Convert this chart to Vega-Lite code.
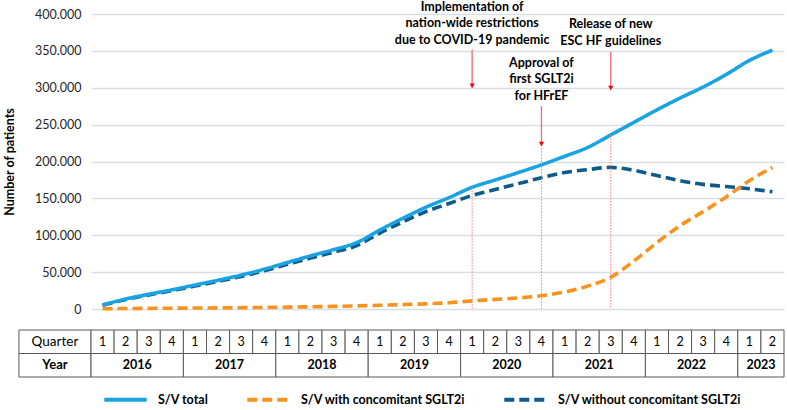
{
  "$schema": "https://vega.github.io/schema/vega-lite/v6.json",
  "padding": {"left": 3, "top": 0, "right": 0, "bottom": 0},
  "background": "white",
  "spacing": 13,
  "config": {
    "view": {"stroke": null},
    "font": "Lato",
    "axisY": {
      "grid": true, "gridColor": "#d9dee5", "gridWidth": 1.5,
      "domain": false, "ticks": false, "tickSize": 0,
      "labelPadding": 10, "labelFontSize": 12.5, "labelColor": "#262626",
      "titleFontSize": 12.5, "titleFontWeight": "bold", "titleColor": "#000000",
      "titlePadding": 18, "labelOverlap": false
    },
    "legend": {
      "orient": "none",
      "legendX": 11,
      "legendY": 362,
      "direction": "horizontal",
      "symbolType": "stroke",
      "symbolSize": 1800,
      "symbolStrokeWidth": 4,
      "labelFontSize": 12.5,
      "labelFontWeight": "bold",
      "labelColor": "#000000",
      "labelOffset": 9,
      "columnPadding": 30,
      "labelLimit": 400
    }
  },
  "datasets": {
    "series": [
      {"q": 0, "series": "S/V without concomitant SGLT2i", "patients": 5000},
      {"q": 1, "series": "S/V without concomitant SGLT2i", "patients": 12800},
      {"q": 2, "series": "S/V without concomitant SGLT2i", "patients": 19100},
      {"q": 3, "series": "S/V without concomitant SGLT2i", "patients": 24900},
      {"q": 4, "series": "S/V without concomitant SGLT2i", "patients": 31200},
      {"q": 5, "series": "S/V without concomitant SGLT2i", "patients": 37500},
      {"q": 6, "series": "S/V without concomitant SGLT2i", "patients": 44200},
      {"q": 7, "series": "S/V without concomitant SGLT2i", "patients": 51900},
      {"q": 8, "series": "S/V without concomitant SGLT2i", "patients": 60500},
      {"q": 9, "series": "S/V without concomitant SGLT2i", "patients": 69000},
      {"q": 10, "series": "S/V without concomitant SGLT2i", "patients": 77000},
      {"q": 11, "series": "S/V without concomitant SGLT2i", "patients": 86000},
      {"q": 12, "series": "S/V without concomitant SGLT2i", "patients": 103000},
      {"q": 13, "series": "S/V without concomitant SGLT2i", "patients": 118000},
      {"q": 14, "series": "S/V without concomitant SGLT2i", "patients": 132000},
      {"q": 15, "series": "S/V without concomitant SGLT2i", "patients": 143000},
      {"q": 16, "series": "S/V without concomitant SGLT2i", "patients": 154000},
      {"q": 17, "series": "S/V without concomitant SGLT2i", "patients": 162000},
      {"q": 18, "series": "S/V without concomitant SGLT2i", "patients": 170000},
      {"q": 19, "series": "S/V without concomitant SGLT2i", "patients": 178000},
      {"q": 20, "series": "S/V without concomitant SGLT2i", "patients": 185000},
      {"q": 21, "series": "S/V without concomitant SGLT2i", "patients": 189000},
      {"q": 22, "series": "S/V without concomitant SGLT2i", "patients": 192000},
      {"q": 23, "series": "S/V without concomitant SGLT2i", "patients": 188000},
      {"q": 24, "series": "S/V without concomitant SGLT2i", "patients": 181000},
      {"q": 25, "series": "S/V without concomitant SGLT2i", "patients": 174000},
      {"q": 26, "series": "S/V without concomitant SGLT2i", "patients": 169000},
      {"q": 27, "series": "S/V without concomitant SGLT2i", "patients": 166000},
      {"q": 28, "series": "S/V without concomitant SGLT2i", "patients": 163000},
      {"q": 29, "series": "S/V without concomitant SGLT2i", "patients": 159000},
      {"q": 0, "series": "S/V total", "patients": 5500},
      {"q": 1, "series": "S/V total", "patients": 13500},
      {"q": 2, "series": "S/V total", "patients": 20000},
      {"q": 3, "series": "S/V total", "patients": 26000},
      {"q": 4, "series": "S/V total", "patients": 32500},
      {"q": 5, "series": "S/V total", "patients": 39000},
      {"q": 6, "series": "S/V total", "patients": 46000},
      {"q": 7, "series": "S/V total", "patients": 54000},
      {"q": 8, "series": "S/V total", "patients": 63000},
      {"q": 9, "series": "S/V total", "patients": 72000},
      {"q": 10, "series": "S/V total", "patients": 80500},
      {"q": 11, "series": "S/V total", "patients": 90000},
      {"q": 12, "series": "S/V total", "patients": 107000},
      {"q": 13, "series": "S/V total", "patients": 123000},
      {"q": 14, "series": "S/V total", "patients": 138000},
      {"q": 15, "series": "S/V total", "patients": 151000},
      {"q": 16, "series": "S/V total", "patients": 165000},
      {"q": 17, "series": "S/V total", "patients": 175000},
      {"q": 18, "series": "S/V total", "patients": 185000},
      {"q": 19, "series": "S/V total", "patients": 195500},
      {"q": 20, "series": "S/V total", "patients": 207000},
      {"q": 21, "series": "S/V total", "patients": 219000},
      {"q": 22, "series": "S/V total", "patients": 236000},
      {"q": 23, "series": "S/V total", "patients": 253000},
      {"q": 24, "series": "S/V total", "patients": 270000},
      {"q": 25, "series": "S/V total", "patients": 286000},
      {"q": 26, "series": "S/V total", "patients": 301000},
      {"q": 27, "series": "S/V total", "patients": 318000},
      {"q": 28, "series": "S/V total", "patients": 337000},
      {"q": 29, "series": "S/V total", "patients": 351000},
      {"q": 0, "series": "S/V with concomitant SGLT2i", "patients": 300},
      {"q": 1, "series": "S/V with concomitant SGLT2i", "patients": 700},
      {"q": 2, "series": "S/V with concomitant SGLT2i", "patients": 900},
      {"q": 3, "series": "S/V with concomitant SGLT2i", "patients": 1100},
      {"q": 4, "series": "S/V with concomitant SGLT2i", "patients": 1300},
      {"q": 5, "series": "S/V with concomitant SGLT2i", "patients": 1500},
      {"q": 6, "series": "S/V with concomitant SGLT2i", "patients": 1800},
      {"q": 7, "series": "S/V with concomitant SGLT2i", "patients": 2100},
      {"q": 8, "series": "S/V with concomitant SGLT2i", "patients": 2500},
      {"q": 9, "series": "S/V with concomitant SGLT2i", "patients": 3000},
      {"q": 10, "series": "S/V with concomitant SGLT2i", "patients": 3500},
      {"q": 11, "series": "S/V with concomitant SGLT2i", "patients": 4200},
      {"q": 12, "series": "S/V with concomitant SGLT2i", "patients": 5000},
      {"q": 13, "series": "S/V with concomitant SGLT2i", "patients": 6000},
      {"q": 14, "series": "S/V with concomitant SGLT2i", "patients": 7000},
      {"q": 15, "series": "S/V with concomitant SGLT2i", "patients": 8500},
      {"q": 16, "series": "S/V with concomitant SGLT2i", "patients": 11000},
      {"q": 17, "series": "S/V with concomitant SGLT2i", "patients": 13000},
      {"q": 18, "series": "S/V with concomitant SGLT2i", "patients": 15000},
      {"q": 19, "series": "S/V with concomitant SGLT2i", "patients": 18000},
      {"q": 20, "series": "S/V with concomitant SGLT2i", "patients": 23000},
      {"q": 21, "series": "S/V with concomitant SGLT2i", "patients": 31000},
      {"q": 22, "series": "S/V with concomitant SGLT2i", "patients": 43000},
      {"q": 23, "series": "S/V with concomitant SGLT2i", "patients": 65000},
      {"q": 24, "series": "S/V with concomitant SGLT2i", "patients": 90000},
      {"q": 25, "series": "S/V with concomitant SGLT2i", "patients": 113000},
      {"q": 26, "series": "S/V with concomitant SGLT2i", "patients": 132000},
      {"q": 27, "series": "S/V with concomitant SGLT2i", "patients": 152000},
      {"q": 28, "series": "S/V with concomitant SGLT2i", "patients": 174000},
      {"q": 29, "series": "S/V with concomitant SGLT2i", "patients": 192000}
    ],
    "quarters": [
      {"q": 0, "quarter": "1", "year": "2016"}, {"q": 1, "quarter": "2", "year": "2016"}, {"q": 2, "quarter": "3", "year": "2016"}, {"q": 3, "quarter": "4", "year": "2016"},
      {"q": 4, "quarter": "1", "year": "2017"}, {"q": 5, "quarter": "2", "year": "2017"}, {"q": 6, "quarter": "3", "year": "2017"}, {"q": 7, "quarter": "4", "year": "2017"},
      {"q": 8, "quarter": "1", "year": "2018"}, {"q": 9, "quarter": "2", "year": "2018"}, {"q": 10, "quarter": "3", "year": "2018"}, {"q": 11, "quarter": "4", "year": "2018"},
      {"q": 12, "quarter": "1", "year": "2019"}, {"q": 13, "quarter": "2", "year": "2019"}, {"q": 14, "quarter": "3", "year": "2019"}, {"q": 15, "quarter": "4", "year": "2019"},
      {"q": 16, "quarter": "1", "year": "2020"}, {"q": 17, "quarter": "2", "year": "2020"}, {"q": 18, "quarter": "3", "year": "2020"}, {"q": 19, "quarter": "4", "year": "2020"},
      {"q": 20, "quarter": "1", "year": "2021"}, {"q": 21, "quarter": "2", "year": "2021"}, {"q": 22, "quarter": "3", "year": "2021"}, {"q": 23, "quarter": "4", "year": "2021"},
      {"q": 24, "quarter": "1", "year": "2022"}, {"q": 25, "quarter": "2", "year": "2022"}, {"q": 26, "quarter": "3", "year": "2022"}, {"q": 27, "quarter": "4", "year": "2022"},
      {"q": 28, "quarter": "1", "year": "2023"}, {"q": 29, "quarter": "2", "year": "2023"}
    ],
    "events": [
      {"q": 16, "label": "Implementation of\nnation-wide restrictions\ndue to COVID-19 pandemic", "textY": 410000, "arrowStart": 352000, "arrowEnd": 300000, "dotTop": 165000},
      {"q": 19, "label": "Approval of\nfirst SGLT2i\nfor HFrEF", "textY": 334000, "arrowStart": 275000, "arrowEnd": 221000, "dotTop": 218000},
      {"q": 22, "label": "Release of new\nESC HF guidelines", "textY": 386000, "arrowStart": 349000, "arrowEnd": 297000, "dotTop": 236000}
    ],
    "rowlabels": [{"row": "Quarter"}, {"row": "Year"}]
  },
  "vconcat": [
    {
      "width": 693,
      "height": 295,
      "layer": [
        {
          "data": {"name": "series"},
          "mark": {"type": "line", "strokeWidth": 3.6, "interpolate": "monotone"},
          "encoding": {
            "x": {"field": "q", "type": "quantitative", "scale": {"domain": [-0.5, 29.5]}, "axis": null},
            "y": {
              "field": "patients", "type": "quantitative",
              "scale": {"domain": [0, 400000]},
              "axis": {"title": "Number of patients", "values": [0, 50000, 100000, 150000, 200000, 250000, 300000, 350000, 400000], "labelExpr": "replace(format(datum.value, ','), ',', '.')"}
            },
            "color": {
              "field": "series", "type": "nominal", "title": null,
              "scale": {
                "domain": ["S/V total", "S/V with concomitant SGLT2i", "S/V without concomitant SGLT2i"],
                "range": ["#1aa3e1", "#f7931e", "#0d5a8c"]
              }
            },
            "strokeDash": {
              "field": "series", "type": "nominal", "title": null,
              "scale": {
                "domain": ["S/V total", "S/V with concomitant SGLT2i", "S/V without concomitant SGLT2i"],
                "range": [[1, 0], [10, 5], [10, 5]]
              }
            }
          }
        },
        {
          "data": {"name": "events"},
          "mark": {"type": "rule", "stroke": "#ff7a7a", "strokeWidth": 1, "strokeDash": [1.5, 1.5]},
          "encoding": {
            "x": {"field": "q", "type": "quantitative", "scale": {"domain": [-0.5, 29.5]}},
            "y": {"field": "dotTop", "type": "quantitative", "scale": {"domain": [0, 400000]},
              "axis": {"title": "Number of patients", "values": [0, 50000, 100000, 150000, 200000, 250000, 300000, 350000, 400000], "labelExpr": "replace(format(datum.value, ','), ',', '.')"}},
            "y2": {"datum": 0}
          }
        },
        {
          "data": {"name": "events"},
          "mark": {"type": "rule", "stroke": "#f26b6b", "strokeWidth": 1.3},
          "encoding": {
            "x": {"field": "q", "type": "quantitative", "scale": {"domain": [-0.5, 29.5]}},
            "y": {"field": "arrowStart", "type": "quantitative", "scale": {"domain": [0, 400000]},
              "axis": {"title": "Number of patients", "values": [0, 50000, 100000, 150000, 200000, 250000, 300000, 350000, 400000], "labelExpr": "replace(format(datum.value, ','), ',', '.')"}},
            "y2": {"field": "arrowEnd"}
          }
        },
        {
          "data": {"name": "events"},
          "mark": {"type": "point", "shape": "triangle-down", "filled": true, "color": "#ff0000", "opacity": 1, "size": 28, "yOffset": -2},
          "encoding": {
            "x": {"field": "q", "type": "quantitative", "scale": {"domain": [-0.5, 29.5]}},
            "y": {"field": "arrowEnd", "type": "quantitative", "scale": {"domain": [0, 400000]},
              "axis": {"title": "Number of patients", "values": [0, 50000, 100000, 150000, 200000, 250000, 300000, 350000, 400000], "labelExpr": "replace(format(datum.value, ','), ',', '.')"}}
          }
        },
        {
          "data": {"name": "events"},
          "mark": {"type": "text", "lineBreak": "\n", "fontWeight": "bold", "fontSize": 12.5, "lineHeight": 16.5, "baseline": "middle", "align": "center", "color": "#000000"},
          "encoding": {
            "x": {"field": "q", "type": "quantitative", "scale": {"domain": [-0.5, 29.5]}},
            "y": {"field": "textY", "type": "quantitative", "scale": {"domain": [0, 400000]},
              "axis": {"title": "Number of patients", "values": [0, 50000, 100000, 150000, 200000, 250000, 300000, 350000, 400000], "labelExpr": "replace(format(datum.value, ','), ',', '.')"}},
            "text": {"field": "label"}
          }
        }
      ]
    },
    {
      "width": 693,
      "height": 47,
      "layer": [
        {
          "data": {"name": "rowlabels"},
          "mark": {"type": "rect", "fill": "white", "stroke": "#595959", "strokeWidth": 1},
          "encoding": {
            "x": {"datum": -3.62, "type": "quantitative", "scale": {"domain": [-0.5, 29.5]}, "axis": null},
            "x2": {"datum": -0.5},
            "y": {"field": "row", "type": "nominal", "scale": {"domain": ["Quarter", "Year"], "paddingInner": 0, "paddingOuter": 0}, "axis": null}
          }
        },
        {
          "data": {"name": "quarters"},
          "mark": {"type": "rect", "fill": "white", "stroke": "#595959", "strokeWidth": 1, "xOffset": -11.55, "x2Offset": 11.55},
          "encoding": {
            "x": {"field": "q", "type": "quantitative", "scale": {"domain": [-0.5, 29.5]}, "axis": null},
            "x2": {"field": "q"},
            "y": {"datum": "Quarter", "type": "nominal", "scale": {"domain": ["Quarter", "Year"], "paddingInner": 0, "paddingOuter": 0}, "axis": null}
          }
        },
        {
          "data": {"name": "quarters"},
          "mark": {"type": "rect", "fill": "white", "stroke": "#595959", "strokeWidth": 1, "xOffset": -11.55, "x2Offset": 11.55},
          "encoding": {
            "x": {"aggregate": "min", "field": "q", "type": "quantitative", "scale": {"domain": [-0.5, 29.5]}, "axis": null},
            "x2": {"aggregate": "max", "field": "q"},
            "detail": {"field": "year", "type": "nominal"},
            "y": {"datum": "Year", "type": "nominal", "scale": {"domain": ["Quarter", "Year"], "paddingInner": 0, "paddingOuter": 0}, "axis": null}
          }
        },
        {
          "data": {"name": "quarters"},
          "mark": {"type": "text", "fontSize": 12.5, "color": "#000000", "align": "center", "baseline": "middle"},
          "encoding": {
            "x": {"field": "q", "type": "quantitative", "scale": {"domain": [-0.5, 29.5]}, "axis": null},
            "y": {"datum": "Quarter", "type": "nominal", "scale": {"domain": ["Quarter", "Year"], "paddingInner": 0, "paddingOuter": 0}, "axis": null},
            "text": {"field": "quarter"}
          }
        },
        {
          "data": {"name": "quarters"},
          "mark": {"type": "text", "fontSize": 12.5, "fontWeight": "bold", "color": "#000000", "align": "center", "baseline": "middle"},
          "encoding": {
            "x": {"aggregate": "mean", "field": "q", "type": "quantitative", "scale": {"domain": [-0.5, 29.5]}, "axis": null},
            "y": {"datum": "Year", "type": "nominal", "scale": {"domain": ["Quarter", "Year"], "paddingInner": 0, "paddingOuter": 0}, "axis": null},
            "text": {"field": "year"}
          }
        },
        {
          "data": {"name": "rowlabels"},
          "transform": [{"filter": "datum.row === 'Quarter'"}],
          "mark": {"type": "text", "fontSize": 13.5, "color": "#000000", "align": "center", "baseline": "middle"},
          "encoding": {
            "x": {"datum": -2.06, "type": "quantitative", "scale": {"domain": [-0.5, 29.5]}, "axis": null},
            "y": {"field": "row", "type": "nominal", "scale": {"domain": ["Quarter", "Year"], "paddingInner": 0, "paddingOuter": 0}, "axis": null},
            "text": {"field": "row"}
          }
        },
        {
          "data": {"name": "rowlabels"},
          "transform": [{"filter": "datum.row === 'Year'"}],
          "mark": {"type": "text", "fontSize": 13, "fontWeight": "bold", "color": "#000000", "align": "center", "baseline": "middle"},
          "encoding": {
            "x": {"datum": -2.06, "type": "quantitative", "scale": {"domain": [-0.5, 29.5]}, "axis": null},
            "y": {"field": "row", "type": "nominal", "scale": {"domain": ["Quarter", "Year"], "paddingInner": 0, "paddingOuter": 0}, "axis": null},
            "text": {"field": "row"}
          }
        }
      ]
    }
  ]
}
